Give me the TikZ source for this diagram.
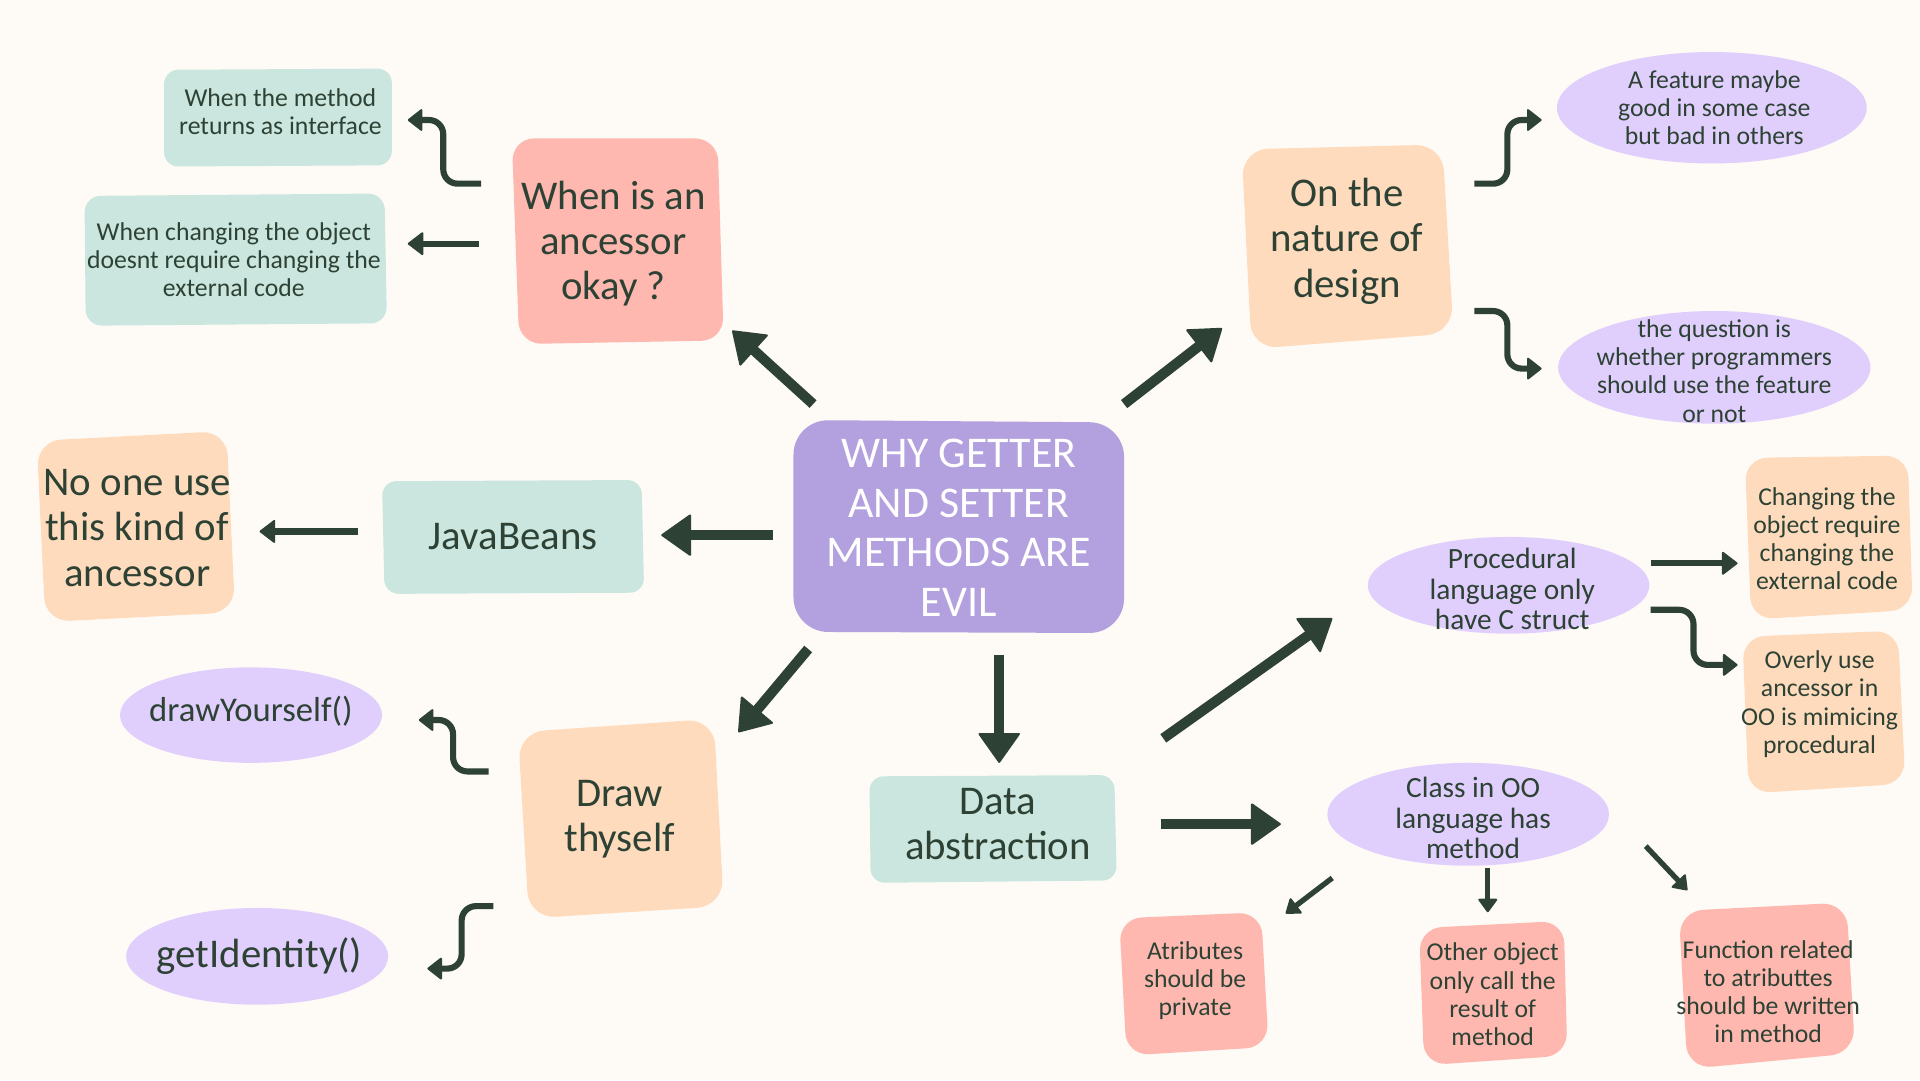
\documentclass[tikz,border=0pt]{standalone}
\usepackage{fontspec}
\setmainfont{Carlito}
\usetikzlibrary{arrows.meta,shapes.geometric}
\definecolor{bgc}{HTML}{FEFAF6}
\definecolor{mint}{HTML}{CBE6DF}
\definecolor{salm}{HTML}{FEB8AF}
\definecolor{peach}{HTML}{FEDBBD}
\definecolor{lav}{HTML}{E0CFFC}
\definecolor{purp}{HTML}{B3A0DE}
\definecolor{dk}{HTML}{2D4234}
\begin{document}
\begin{tikzpicture}[x=0.6pt,y=-0.6pt,
  txt/.style={text=dk, align=center, inner sep=0pt},
  tbig/.style={txt, font=\fontsize{20}{22.2}\selectfont},
  tcen/.style={txt, text=white, font=\fontsize{21.5}{24.2}\selectfont},
  tsmall/.style={txt, font=\fontsize{12.6}{13.8}\selectfont},
  tmid/.style={txt, font=\fontsize{14.4}{15}\selectfont},
  oval/.style={ellipse, fill=lav, inner sep=0pt},
  big/.style={draw=dk, line width=5pt, -{Triangle[length=15pt,width=21pt,line width=1pt,round]}},
  mid/.style={draw=dk, line width=3pt, -{Triangle[length=8pt,width=12pt,line width=1pt,round]}},
  elb/.style={draw=dk, line width=3pt, rounded corners=7pt, -{Triangle[length=7.5pt,width=11.5pt,line width=1pt,round]}},
  sm/.style={draw=dk, line width=2.6pt, -{Triangle[length=7pt,width=10pt,line width=1pt,round]}}]
\fill[bgc] (0,0) rectangle (1568,882);
\useasboundingbox (0,0) rectangle (1568,882);

% blobs
\fill[purp, rounded corners=17pt] (648,343) -- (918,345) -- (918,517) -- (648,516) -- cycle;
\fill[salm, rounded corners=11pt] (418,113) -- (586,113) -- (591,278) -- (424,281) -- cycle;
\fill[mint, rounded corners=7pt] (134,57) -- (320,56) -- (320,135) -- (134,136) -- cycle;
\fill[mint, rounded corners=8pt] (69,160) -- (314,158) -- (316,264) -- (70,266) -- cycle;
\fill[peach, rounded corners=13pt] (1014,122) -- (1178,118) -- (1187,272) -- (1022,285) -- cycle;
\fill[mint, rounded corners=7pt] (312,393) -- (524,392) -- (526,484) -- (314,485) -- cycle;
\fill[peach, rounded corners=12pt] (30,360) -- (185,352) -- (192,500) -- (37,508) -- cycle;
\fill[peach, rounded corners=13pt] (423,598) -- (583,587) -- (591,740) -- (432,750) -- cycle;
\fill[mint, rounded corners=7pt] (710,634) -- (910,633) -- (912,719) -- (711,721) -- cycle;
\fill[peach, rounded corners=11pt] (1425,374) -- (1558,372) -- (1562,498) -- (1430,506) -- cycle;
\fill[peach, rounded corners=11pt] (1423,520) -- (1550,515) -- (1556,640) -- (1428,648) -- cycle;
\fill[salm, rounded corners=11pt] (914,750) -- (1030,745) -- (1036,855) -- (920,862) -- cycle;
\fill[salm, rounded corners=11pt] (1159,758) -- (1277,752) -- (1280,862) -- (1163,870) -- cycle;
\fill[salm, rounded corners=12pt] (1371,744) -- (1508,737) -- (1515,860) -- (1378,873) -- cycle;

% ovals
\node[oval, minimum width=151.8pt, minimum height=54.6pt] (featO) at (1398,88) {};
\node[oval, minimum width=153pt, minimum height=55.2pt] (questO) at (1400,300) {};
\node[oval, minimum width=128.4pt, minimum height=46.8pt] (drawO) at (205,584) {};
\node[oval, minimum width=128.4pt, minimum height=47.4pt] (getO) at (210,781) {};
\node[oval, minimum width=138pt, minimum height=47.4pt] (procO) at (1232,478) {};
\node[oval, minimum width=138pt, minimum height=50.4pt] (classO) at (1199,665) {};

% texts
\node[tcen] (c) at (783,431) {WHY GETTER\\AND SETTER\\METHODS ARE\\EVIL};
\node[tbig] (when) at (501,199) {When is an\\ancessor\\okay ?};
\node[tsmall] (meth) at (229,91) {When the method\\returns as interface};
\node[tsmall] (chg) at (191,212) {When changing the object\\doesnt require changing the\\external code};
\node[tbig] (nat) at (1100,197) {On the\\nature of\\design};
\node[tsmall] (feat) at (1400,88) {A feature maybe\\good in some case\\but bad in others};
\node[tsmall] (quest) at (1400,303) {the question is\\whether programmers\\should use the feature\\or not};
\node[tbig] (java) at (419,438) {JavaBeans};
\node[tbig] (none) at (112,431) {No one use\\this kind of\\ancessor};
\node[tbig] (draw) at (506,669) {Draw\\thyself};
\node[txt, font=\fontsize{17}{19}\selectfont] (dys) at (205,581) {drawYourself()};
\node[txt, font=\fontsize{20}{22}\selectfont] (gid) at (212,781) {getIdentity()};
\node[tbig] (data) at (815,673) {Data\\abstraction};
\node[tmid] (proc) at (1235,481) {Procedural\\language only\\have C struct};
\node[tsmall] (cobj) at (1492,440) {Changing the\\object require\\changing the\\external code};
\node[tsmall] (over) at (1486,575) {Overly use\\ancessor in\\OO is mimicing\\procedural};
\node[tmid] (cls) at (1203,668) {Class in OO\\language has\\method};
\node[tsmall] (atr) at (976,801) {Atributes\\should be\\private};
\node[tsmall] (oth) at (1219,812) {Other object\\only call the\\result of\\method};
\node[tsmall] (fun) at (1444,810) {Function related\\to atributtes\\should be written\\in method};

% arrows
\draw[big] (664,330) -- (598,270);
\draw[big] (918,330) -- (998,268);
\draw[big] (631,437) -- (540,437);
\draw[mid] (292,434) -- (212,434);
\draw[big] (660,530) -- (603,598);
\draw[big] (816,535) -- (816,623);
\draw[big] (950,603) -- (1088,505);
\draw[big] (948,673) -- (1046,673);
\draw[sm] (1088,717) -- (1050,746);
\draw[sm] (1215,709) -- (1215,745);
\draw[sm] (1344,691) -- (1378,727);
\draw[mid] (1348,460) -- (1419,460);
\draw[elb] (1348,498) -- (1383,498) -- (1383,543) -- (1419,543);
\draw[elb] (1204,150) -- (1231,150) -- (1231,98) -- (1259,98);
\draw[elb] (1204,254) -- (1231,254) -- (1231,301) -- (1259,301);
\draw[elb] (393,150) -- (362,150) -- (362,98) -- (333,98);
\draw[mid] (391,199) -- (333,199);
\draw[elb] (399,630) -- (370,630) -- (370,588) -- (342,588);
\draw[elb] (403,740) -- (377,740) -- (377,791) -- (349,791);
\end{tikzpicture}
\end{document}
